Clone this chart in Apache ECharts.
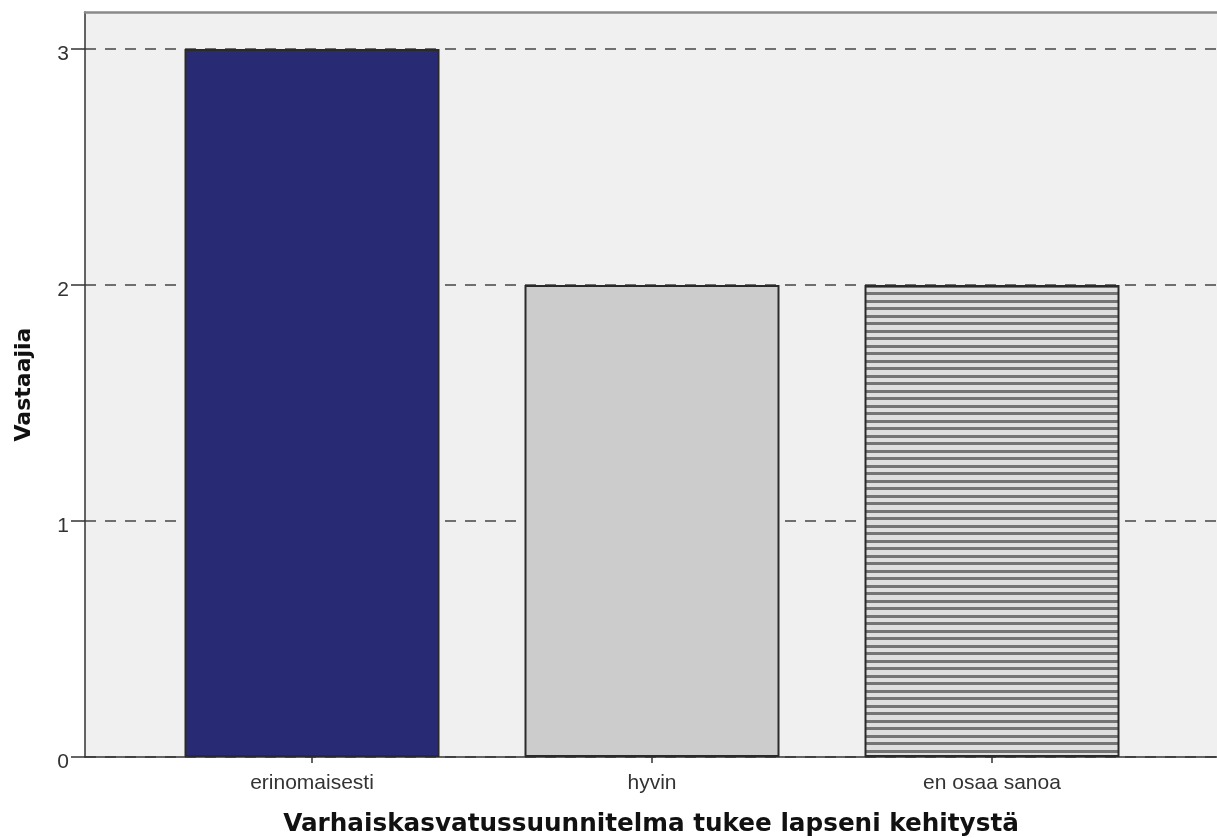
<!DOCTYPE html>
<html>
<head>
<meta charset="utf-8">
<script src="https://cdn.jsdelivr.net/npm/echarts@6/dist/echarts.min.js"></script>
<style>
html,body{margin:0;padding:0;background:#fff;}
#chart{width:1217px;height:838px;}
</style>
</head>
<body>
<div id="chart"></div>
<script>
const categories = ['erinomaisesti', 'hyvin', 'en osaa sanoa'];
const counts = [3, 2, 2];
const yTicks = [0, 1, 2, 3];
const xTitle = 'Varhaiskasvatussuunnitelma tukee lapseni kehitystä';
const yTitle = 'Vastaajia';

// hatch pattern for third bar
const pc = document.createElement('canvas');
pc.width = 4; pc.height = 15;
const pctx = pc.getContext('2d');
pctx.fillStyle = '#dedede';
pctx.fillRect(0, 0, 4, 15);
pctx.fillStyle = '#747474';
pctx.fillRect(0, 0, 4, 3);
pctx.fillRect(0, 7, 4, 3);

const barFills = ['#282A73', '#CCCCCC', { image: pc, repeat: 'repeat' }];

const yMax = 3.157;
const chart = echarts.init(document.getElementById('chart'), null, { renderer: 'canvas' });
chart.setOption({
  animation: false,
  backgroundColor: '#ffffff',
  grid: [
    { left: 85, right: 0, top: 12, bottom: 81, show: true, backgroundColor: '#F0F0F0', borderWidth: 0, containLabel: false, outerBoundsMode: 'none' },
    { left: 142, right: 55, top: 12, bottom: 81, containLabel: false, outerBoundsMode: 'none' }
  ],
  xAxis: [
    {
      gridIndex: 0, type: 'value', min: 0, max: 1, position: 'bottom',
      axisLine: { show: true, onZero: false, lineStyle: { color: '#333', width: 1.5 } },
      axisTick: { show: false }, axisLabel: { show: false }, splitLine: { show: false },
      name: xTitle, nameLocation: 'middle', nameGap: 55,
      nameTextStyle: { fontFamily: 'DejaVu Sans', fontWeight: 'bold', fontSize: 24.7, color: '#111' }
    },
    {
      gridIndex: 0, type: 'value', min: 0, max: 1, position: 'top',
      axisLine: { show: true, onZero: false, lineStyle: { color: '#8a8a8a', width: 2.5 } },
      axisTick: { show: false }, axisLabel: { show: false }, splitLine: { show: false }
    },
    {
      gridIndex: 1, type: 'category', data: categories, position: 'bottom',
      axisLine: { show: false },
      axisTick: { show: true, alignWithLabel: true, length: 6, lineStyle: { color: '#333', width: 1.5 } },
      axisLabel: { fontFamily: 'Liberation Sans', fontSize: 21, color: '#333', margin: 16 },
      splitLine: { show: false }
    }
  ],
  yAxis: [
    {
      gridIndex: 0, type: 'value', min: 0, max: yMax, interval: 1,
      axisLine: { show: true, onZero: false, lineStyle: { color: '#333', width: 1.5 } },
      axisTick: { show: true, length: 14, lineStyle: { color: '#333', width: 1.5 } },
      axisLabel: {
        margin: 16,
        showMaxLabel: false,
        formatter: function (v) { return yTicks.indexOf(v) >= 0 ? '{t|' + v + '}' : ''; },
        rich: {
          t: { fontFamily: 'Liberation Sans', fontSize: 21, color: '#333', padding: [10, 0, 0, 0] }
        }
      },
      splitLine: {
        show: true,
        lineStyle: { type: [11, 9], width: 1.5, color: ['#444', '#444', '#444', '#444', 'rgba(0,0,0,0)'] }
      },
      name: yTitle, nameLocation: 'middle', nameGap: 50, nameRotate: 90,
      nameTextStyle: { fontFamily: 'DejaVu Sans', fontWeight: 'bold', fontSize: 22, color: '#111' }
    },
    {
      gridIndex: 1, type: 'value', min: 0, max: yMax, show: false
    }
  ],
  series: [
    {
      type: 'bar', xAxisIndex: 2, yAxisIndex: 1,
      barCategoryGap: '25%',
      data: counts.map(function (v, i) {
        return { value: v, itemStyle: { color: barFills[i], borderColor: '#2a2a2a', borderWidth: 2 } };
      })
    }
  ]
});
</script>
</body>
</html>
